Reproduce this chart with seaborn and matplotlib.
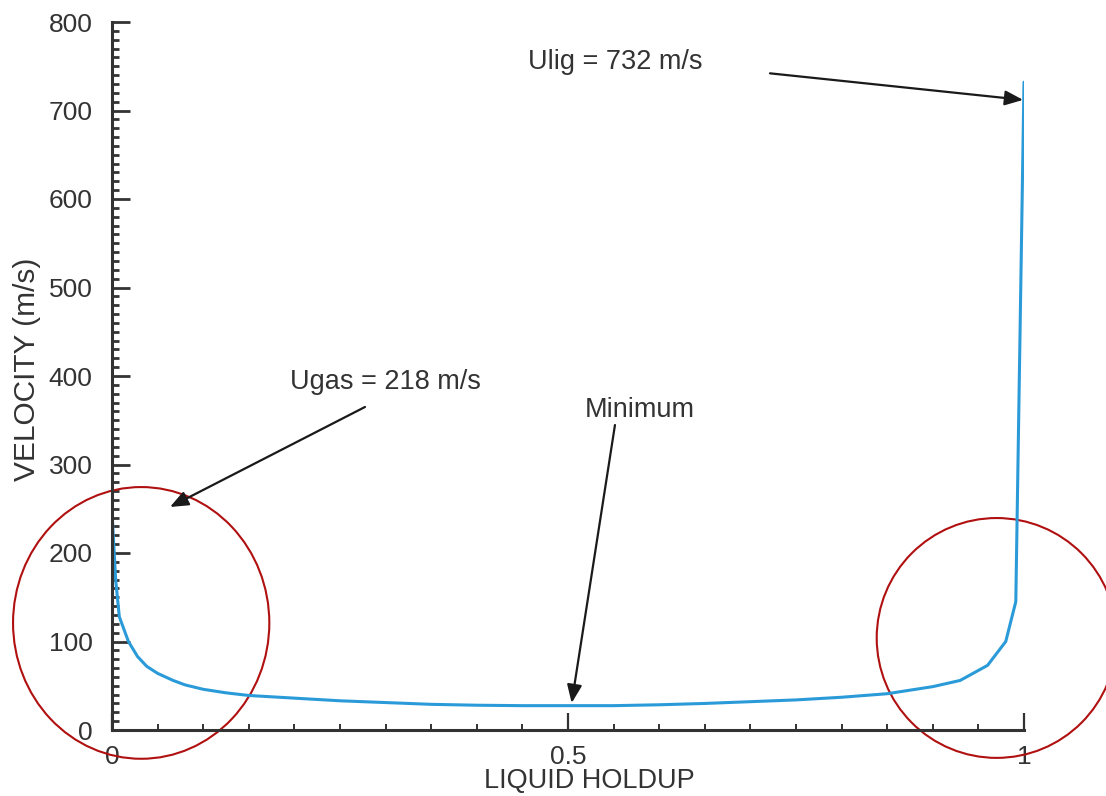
import numpy as np
import pandas as pd
import seaborn as sns
import matplotlib
matplotlib.use("Agg")
import matplotlib.pyplot as plt
from matplotlib.patches import Ellipse
from matplotlib.ticker import MultipleLocator, FixedLocator, FixedFormatter

# Mixture velocity across the liquid holdup range
holdup = [0.0, 0.004, 0.008, 0.018, 0.028, 0.038, 0.05, 0.067, 0.08, 0.1,
          0.125, 0.15, 0.2, 0.25, 0.3, 0.35, 0.4, 0.45, 0.5, 0.55,
          0.6, 0.65, 0.7, 0.75, 0.8, 0.85, 0.9, 0.93, 0.96, 0.98,
          0.991, 1.0]
velocity = [246, 170, 128, 100, 83, 72, 64, 56, 51, 46,
            42, 39, 36, 33, 31, 29, 28, 27.5, 27.5, 27.5,
            28.5, 30, 32, 34, 37, 41, 49, 56, 73, 100,
            145, 732]

u_gas = 218
u_liq = 732
x_ticks = [0, 0.5, 1]
x_tick_labels = ["0", "0.5", "1"]
y_ticks = [0, 100, 200, 300, 400, 500, 600, 700, 800]

df = pd.DataFrame({"holdup": holdup, "velocity": velocity})

sns.set_style("ticks")
plt.rcParams["font.family"] = ["Liberation Sans", "DejaVu Sans"]

ink = "#333333"
fig = plt.figure(figsize=(11.06, 7.96), dpi=100)
ax = fig.add_axes([112 / 1106, 66 / 796, 912 / 1106, 708 / 796])

sns.lineplot(data=df, x="holdup", y="velocity", ax=ax, color="#2a9bd8",
             linewidth=2.2, sort=False, estimator=None)

ax.set_xlim(0, 1)
ax.set_ylim(0, 800)
ax.margins(0)

for side in ("top", "right"):
    ax.spines[side].set_visible(False)
for side in ("left", "bottom"):
    ax.spines[side].set_linewidth(2.2)
    ax.spines[side].set_color(ink)

ax.xaxis.set_major_locator(FixedLocator(x_ticks))
ax.xaxis.set_major_formatter(FixedFormatter(x_tick_labels))
ax.xaxis.set_minor_locator(MultipleLocator(0.05))
ax.yaxis.set_major_locator(FixedLocator(y_ticks))
ax.yaxis.set_minor_locator(MultipleLocator(10))

ax.tick_params(axis="x", which="major", direction="in", length=12, width=1.6,
               color=ink, labelsize=19, labelcolor=ink, pad=11)
ax.tick_params(axis="x", which="minor", direction="in", length=4.5, width=1.4,
               color=ink)
ax.tick_params(axis="y", which="major", direction="in", length=13, width=2,
               color=ink, labelsize=19, labelcolor=ink, pad=14)
ax.tick_params(axis="y", which="minor", direction="in", length=4.8, width=2,
               color=ink)

ax.set_xlabel("")
ax.set_ylabel("")
fig.text(589 / 1106, 1 - 781 / 796, "LIQUID HOLDUP", ha="center", va="center",
         fontsize=19.5, color=ink)
fig.text(27 / 1106, 1 - 369 / 796, "VELOCITY (m/s)", ha="center", va="center",
         rotation=90, fontsize=21.5, color=ink)

# Annotations with arrows
arrow_style = dict(arrowstyle="-|>,head_length=1.1,head_width=0.45",
                   color="#1a1a1a", lw=1.6, shrinkA=0, shrinkB=0)
ax.annotate("", xy=(0.999, 712), xytext=(0.7215, 742),
            arrowprops=arrow_style, annotation_clip=False)
ax.text(0.552, 747, f"Ulig = {u_liq} m/s", ha="center", va="baseline",
        fontsize=19.5, color=ink)

ax.annotate("", xy=(0.0636, 252), xytext=(0.2774, 365),
            arrowprops=arrow_style)
ax.text(0.2993, 385, f"Ugas = {u_gas} m/s", ha="center", va="baseline",
        fontsize=19.5, color=ink)

ax.annotate("", xy=(0.504, 30.5), xytext=(0.5515, 344.6),
            arrowprops=arrow_style)
ax.text(0.579, 354, "Minimum", ha="center", va="baseline",
        fontsize=19.5, color=ink)

# Highlight the two steep ends of the curve
ax.add_patch(Ellipse((0.032, 121), 0.281, 307, fill=False,
                     edgecolor="#b01010", lw=1.5, clip_on=False))
ax.add_patch(Ellipse((0.970, 104), 0.263, 271, fill=False,
                     edgecolor="#b01010", lw=1.5, clip_on=False))

fig.savefig("out.png", dpi=100)
